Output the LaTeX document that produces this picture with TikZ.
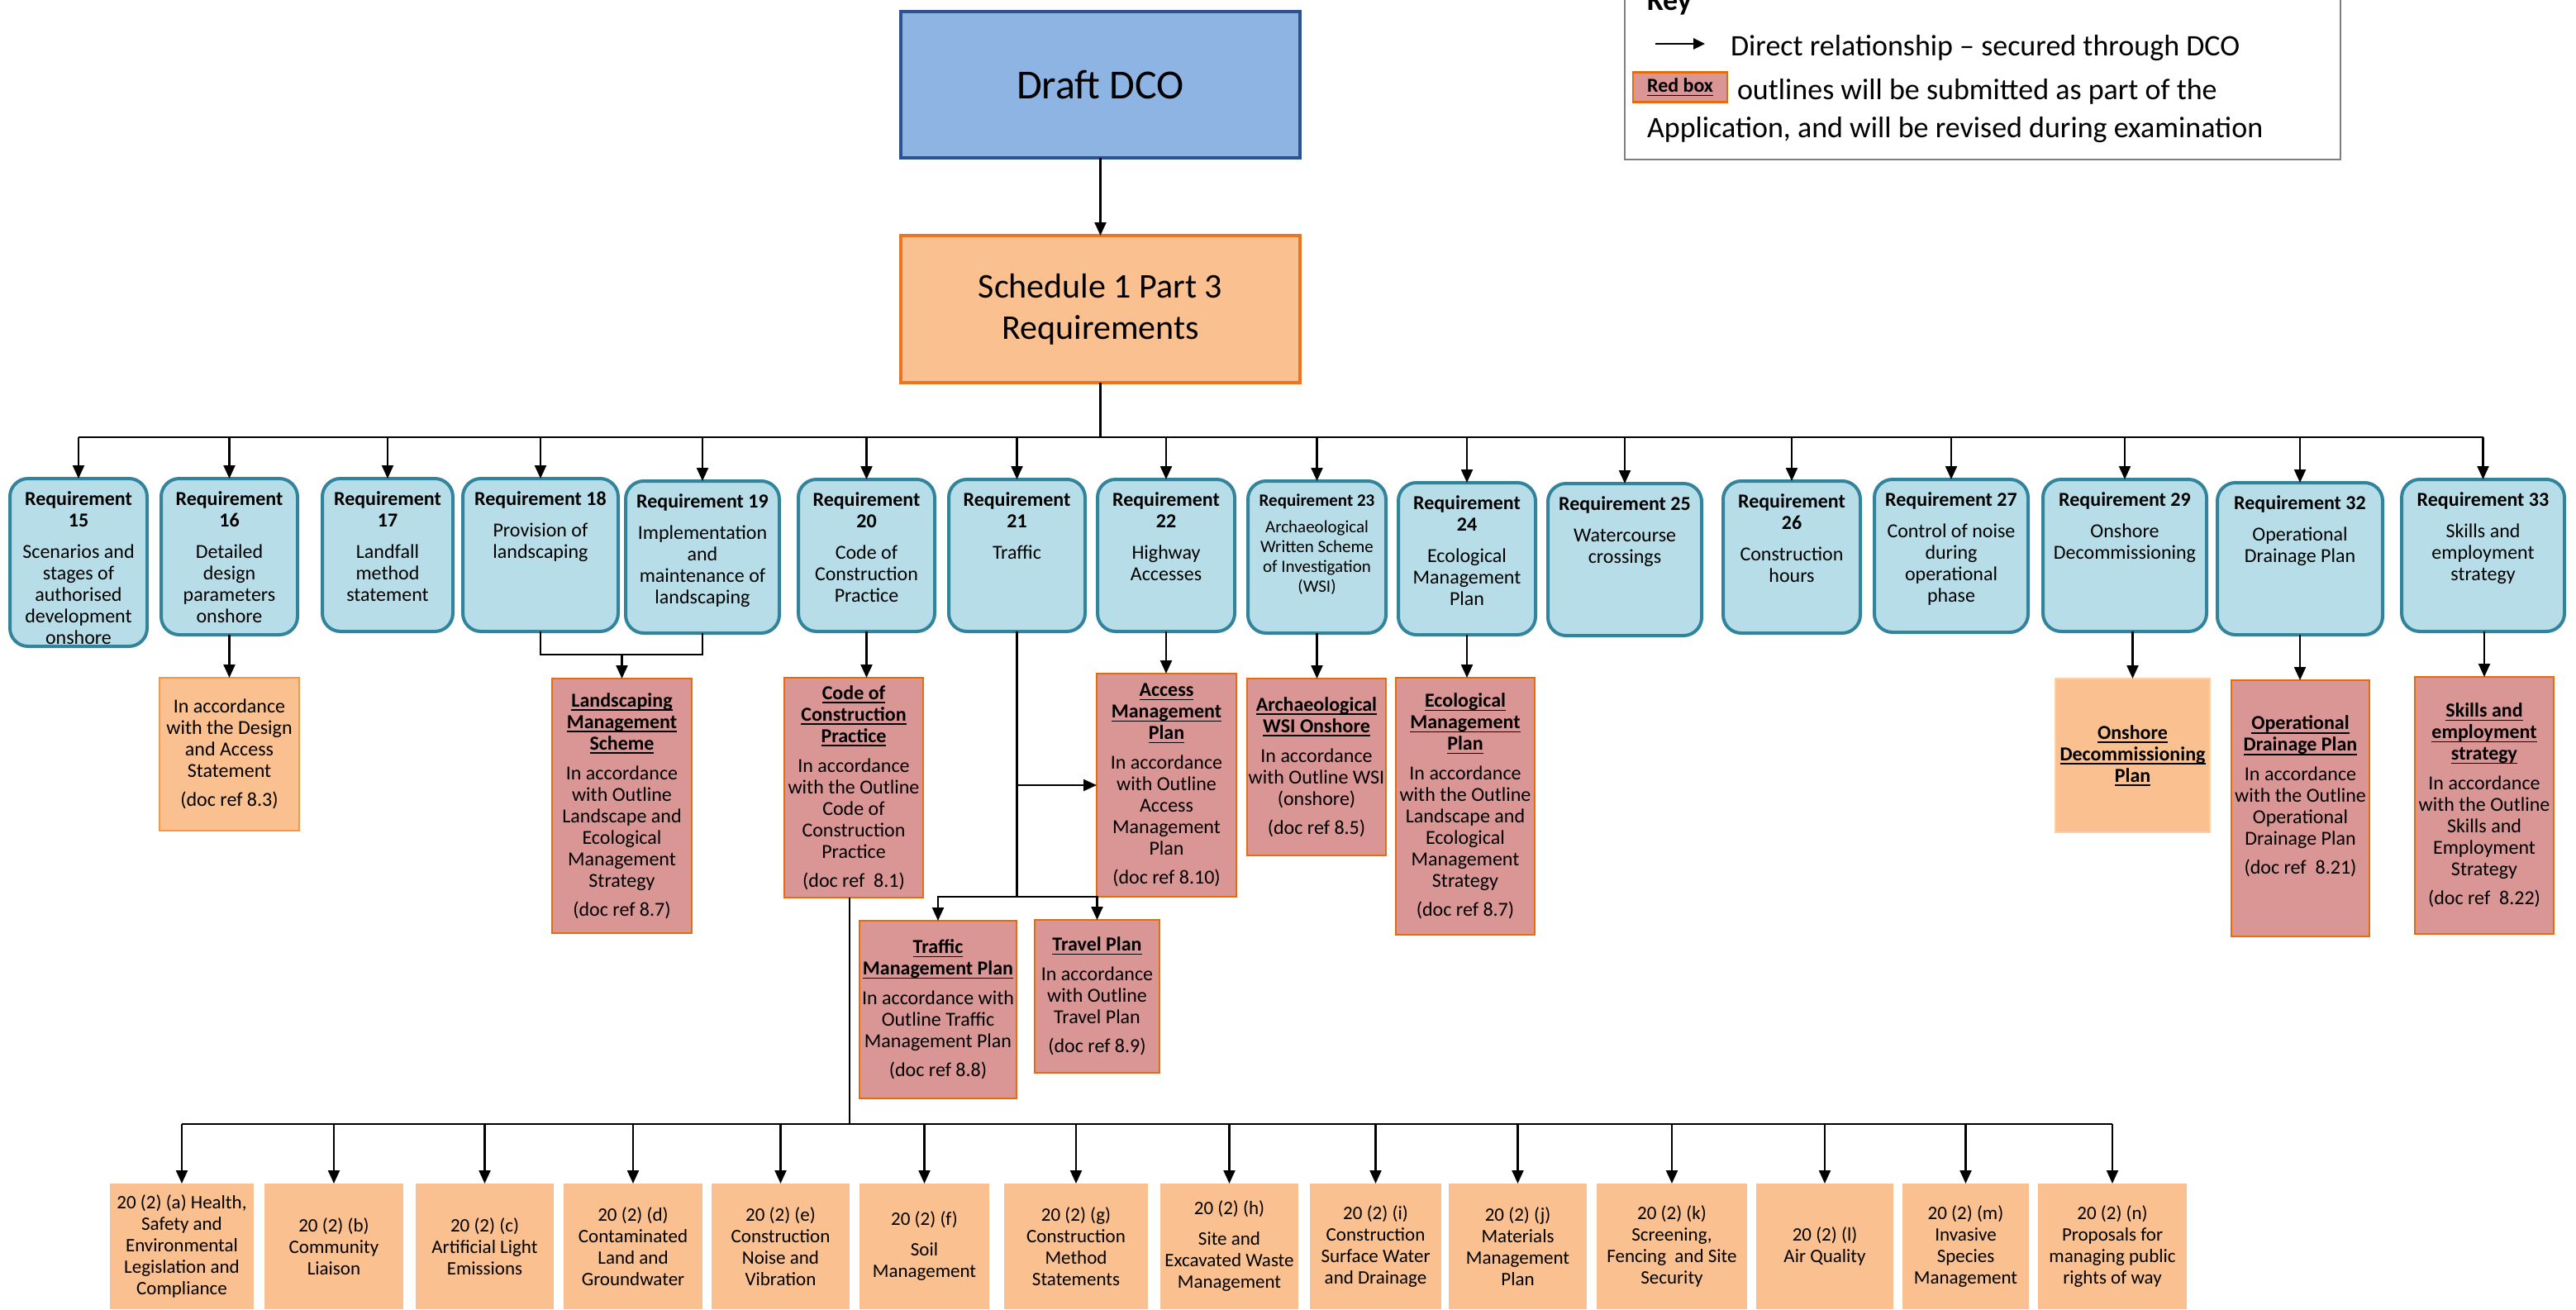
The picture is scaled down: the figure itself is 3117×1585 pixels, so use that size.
\documentclass[tikz,border=0pt]{standalone}
\usepackage{fontspec}
\setmainfont{Carlito}
\usetikzlibrary{arrows.meta}
\definecolor{dcoFill}{HTML}{8EB4E3}
\definecolor{dcoLine}{HTML}{2F528F}
\definecolor{schFill}{HTML}{FAC090}
\definecolor{schLine}{HTML}{EC7524}
\definecolor{reqFill}{HTML}{B7DEE8}
\definecolor{reqLine}{HTML}{31849B}
\definecolor{redFill}{HTML}{D99694}
\definecolor{redLine}{HTML}{E46C0A}
\definecolor{orgFill}{HTML}{FAC090}
\definecolor{orgLine}{HTML}{F79646}
\definecolor{orgLight}{HTML}{FBD0A8}
\definecolor{keyLine}{HTML}{7F7F7F}
\newcommand\ulx[1]{\setbox0\hbox{\bfseries #1}\rlap{\rule[-2.3pt]{\wd0}{0.7pt}}\box0}
\newcommand\fs[2]{\fontsize{#1}{#2}\selectfont}
\tikzset{
  every node/.style={inner sep=0pt, outer sep=0pt},
  dco/.style={draw=dcoLine, fill=dcoFill, line width=2pt, minimum width=241.5pt, minimum height=88.5pt, font=\fs{25}{30}},
  sch/.style={draw=schLine, fill=schFill, line width=2pt, minimum width=241.5pt, minimum height=89pt, align=center, font=\fs{21}{25}},
  rq/.style={draw=reqLine, fill=reqFill, line width=2pt, rounded corners=11pt},
  rqt/.style={anchor=north, align=center, font=\fs{12}{13}},
  rqs/.style={anchor=north, align=center, font=\fs{10.5}{12}},
  redbx/.style={draw=redLine, fill=redFill, line width=1.2pt, align=center, font=\fs{12}{13}},
  orgbx/.style={draw=orgLine, fill=orgFill, line width=1.2pt, align=center, font=\fs{12}{13}},
  btm/.style={fill=orgFill, align=center, minimum height=76pt, font=\fs{11.5}{13}},
  ln/.style={line width=1.1pt},
  arr/.style={line width=1.1pt, -{Triangle[length=8pt,width=7pt]}},
  keyarr/.style={line width=1.4pt, -{Triangle[length=7pt,width=6.5pt]}},
  keytxt/.style={anchor=base west, font=\fs{18}{22}}
}
\begin{document}
\begin{tikzpicture}[x=0.5pt, y=-0.5pt]
\useasboundingbox (0,0) rectangle (3117,1585);
\fill[white] (0,0) rectangle (3117,1585);

% key
\node[draw=keyLine, line width=0.8pt, fill=white, minimum width=433pt, minimum height=106.5pt] (key) at (2399,86.5) {};
\node[keytxt, font=\fs{18}{22}\bfseries] (keyt) at (1993,12) {Key};
\coordinate (ka1) at (2003,53);
\coordinate (ka2) at (2063,53);
\draw[keyarr] (ka1) -- (ka2);
\node[keytxt] (k1) at (2094,67) {Direct relationship – secured through DCO};
\node[redbx, minimum width=57pt, minimum height=18pt] (kred) at (2033,105.5) {\ulx{Red box}};
\node[keytxt] (k2) at (2102,120) {outlines will be submitted as part of the};
\node[keytxt] (k3) at (1993,166) {Application, and will be revised during examination};

% top
\node[dco] (dco) at (1331.5,102.5) {Draft DCO};
\node[sch] (sch) at (1331.5,374) {Schedule 1 Part 3\\Requirements};

% requirements
\node[rq, minimum width=83pt, minimum height=101.5pt] (r15) at (95,680.5) {};
\node[rq, minimum width=82.5pt, minimum height=94.5pt] (r16) at (277.5,673.5) {};
\node[rq, minimum width=79pt, minimum height=92.5pt] (r17) at (469,671.5) {};
\node[rq, minimum width=94pt, minimum height=92.5pt] (r18) at (654,671.5) {};
\node[rq, minimum width=93pt, minimum height=92pt] (r19) at (850,674) {};
\node[rq, minimum width=82.5pt, minimum height=92pt] (r20) at (1048.5,672) {};
\node[rq, minimum width=82.5pt, minimum height=92pt] (r21) at (1230.5,672) {};
\node[rq, minimum width=83pt, minimum height=92pt] (r22) at (1411,672) {};
\node[rq, minimum width=83.5pt, minimum height=92pt] (r23) at (1593.5,674) {};
\node[rq, minimum width=83pt, minimum height=92pt] (r24) at (1775,676) {};
\node[rq, minimum width=93pt, minimum height=92pt] (r25) at (1966,677) {};
\node[rq, minimum width=83pt, minimum height=92pt] (r26) at (2168,674) {};
\node[rq, minimum width=93pt, minimum height=92.5pt] (r27) at (2361,672.5) {};
\node[rq, minimum width=99pt, minimum height=92pt] (r29) at (2571,672) {};
\node[rq, minimum width=100pt, minimum height=92pt] (r32) at (2783,676) {};
\node[rq, minimum width=98.5pt, minimum height=92pt] (r33) at (3004.5,672) {};

\node[rqt] (r15t) at ([yshift=-8pt]r15.north) {\textbf{Requirement}\\\textbf{15}\\[6pt]Scenarios and\\stages of\\authorised\\development\\onshore};
\node[rqt] (r16t) at ([yshift=-8pt]r16.north) {\textbf{Requirement}\\\textbf{16}\\[6pt]Detailed\\design\\parameters\\onshore};
\node[rqt] (r17t) at ([yshift=-8pt]r17.north) {\textbf{Requirement}\\\textbf{17}\\[6pt]Landfall\\method\\statement};
\node[rqt] (r18t) at ([yshift=-8pt]r18.north) {\textbf{Requirement 18}\\[6pt]Provision of\\landscaping};
\node[rqt] (r19t) at ([yshift=-8pt]r19.north) {\textbf{Requirement 19}\\[6pt]Implementation\\and\\maintenance of\\landscaping};
\node[rqt] (r20t) at ([yshift=-8pt]r20.north) {\textbf{Requirement}\\\textbf{20}\\[6pt]Code of\\Construction\\Practice};
\node[rqt] (r21t) at ([yshift=-8pt]r21.north) {\textbf{Requirement}\\\textbf{21}\\[6pt]Traffic};
\node[rqt] (r22t) at ([yshift=-8pt]r22.north) {\textbf{Requirement}\\\textbf{22}\\[6pt]Highway\\Accesses};
\node[rqs] (r23t) at ([yshift=-8pt]r23.north) {\textbf{Requirement 23}\\[4pt]Archaeological\\Written Scheme\\of Investigation\\(WSI)};
\node[rqt] (r24t) at ([yshift=-8pt]r24.north) {\textbf{Requirement}\\\textbf{24}\\[6pt]Ecological\\Management\\Plan};
\node[rqt] (r25t) at ([yshift=-8pt]r25.north) {\textbf{Requirement 25}\\[6pt]Watercourse\\crossings};
\node[rqt] (r26t) at ([yshift=-8pt]r26.north) {\textbf{Requirement}\\\textbf{26}\\[6pt]Construction\\hours};
\node[rqt] (r27t) at ([yshift=-8pt]r27.north) {\textbf{Requirement 27}\\[6pt]Control of noise\\during\\operational\\phase};
\node[rqt] (r29t) at ([yshift=-8pt]r29.north) {\textbf{Requirement 29}\\[6pt]Onshore\\Decommissioning};
\node[rqt] (r32t) at ([yshift=-8pt]r32.north) {\textbf{Requirement 32}\\[6pt]Operational\\Drainage Plan};
\node[rqt] (r33t) at ([yshift=-8pt]r33.north) {\textbf{Requirement 33}\\[6pt]Skills and\\employment\\strategy};

% second level
\node[orgbx, minimum width=84.5pt, minimum height=92.5pt] (des) at (277.5,912.5) {In accordance\\with the Design\\and Access\\Statement\\[4.5pt](doc ref 8.3)};
\node[redbx, minimum width=84.5pt, minimum height=154pt] (lms) at (752.5,975) {\ulx{Landscaping}\\\ulx{Management}\\\ulx{Scheme}\\[5pt]In accordance\\with Outline\\Landscape and\\Ecological\\Management\\Strategy\\[4.5pt](doc ref 8.7)};
\node[redbx, minimum width=84pt, minimum height=133pt] (cocp) at (1033,953) {\ulx{Code of}\\\ulx{Construction}\\\ulx{Practice}\\[5pt]In accordance\\with the Outline\\Code of\\Construction\\Practice\\[4.5pt](doc ref~ 8.1)};
\node[redbx, minimum width=84.5pt, minimum height=135pt] (amp) at (1411.5,950) {\ulx{Access}\\\ulx{Management}\\\ulx{Plan}\\[5pt]In accordance\\with Outline\\Access\\Management\\Plan\\[4.5pt](doc ref 8.10)};
\node[redbx, minimum width=95pt, minimum height=107.5pt] (tmp) at (1135,1221.5) {\ulx{Traffic}\\\ulx{Management Plan}\\[5pt]In accordance with\\Outline Traffic\\Management Plan\\[4.5pt](doc ref 8.8)};
\node[redbx, minimum width=75.5pt, minimum height=92.5pt] (trv) at (1327.5,1205.5) {\ulx{Travel Plan}\\[5pt]In accordance\\with Outline\\Travel Plan\\[4.5pt](doc ref 8.9)};
\node[redbx, minimum width=84pt, minimum height=107pt] (aws) at (1593,928) {\ulx{Archaeological}\\\ulx{WSI Onshore}\\[5pt]In accordance\\with Outline WSI\\(onshore)\\[4.5pt](doc ref 8.5)};
\node[redbx, minimum width=84pt, minimum height=155.5pt] (emp) at (1773,975.5) {\ulx{Ecological}\\\ulx{Management}\\\ulx{Plan}\\[5pt]In accordance\\with the Outline\\Landscape and\\Ecological\\Management\\Strategy\\[4.5pt](doc ref 8.7)};
\node[orgbx, draw=orgLight, minimum width=93.5pt, minimum height=93pt] (odp) at (2580.5,914) {\ulx{Onshore}\\\ulx{Decommissioning}\\\ulx{Plan}};
\node[redbx, minimum width=83.5pt, minimum height=155pt] (drn) at (2783.5,978) {\ulx{Operational}\\\ulx{Drainage Plan}\\[5pt]In accordance\\with the Outline\\Operational\\Drainage Plan\\[4.5pt](doc ref~ 8.21)\\[3pt]\mbox{}};
\node[redbx, minimum width=84pt, minimum height=155.5pt] (skl) at (3006,974.5) {\ulx{Skills and}\\\ulx{employment}\\\ulx{strategy}\\[5pt]In accordance\\with the Outline\\Skills and\\Employment\\Strategy\\[4.5pt](doc ref~ 8.22)};

% bottom row
\node[btm, minimum width=87pt] (ba) at (220,1508) {20 (2) (a) Health,\\Safety and\\Environmental\\Legislation and\\Compliance};
\node[btm, minimum width=84pt] (bb) at (404,1508) {20 (2) (b)\\Community\\Liaison};
\node[btm, minimum width=83.5pt] (bc) at (586.5,1508) {20 (2) (c)\\Artificial Light\\Emissions};
\node[btm, minimum width=84pt] (bd) at (766,1508) {20 (2) (d)\\Contaminated\\Land and\\Groundwater};
\node[btm, minimum width=83.5pt] (be) at (944.5,1508) {20 (2) (e)\\Construction\\Noise and\\Vibration};
\node[btm, minimum width=78.5pt] (bf) at (1118.5,1508) {20 (2) (f)\\[5.5pt]Soil\\Management};
\node[btm, minimum width=87pt] (bg) at (1302,1508) {20 (2) (g)\\Construction\\Method\\Statements};
\node[btm, minimum width=83.5pt] (bh) at (1487.5,1508) {20 (2) (h)\\[5.5pt]Site and\\Excavated Waste\\Management};
\node[btm, minimum width=79.5pt] (bi) at (1664.5,1508) {20 (2) (i)\\Construction\\Surface Water\\and Drainage};
\node[btm, minimum width=83.5pt] (bj) at (1836.5,1508) {20 (2) (j)\\Materials\\Management\\Plan};
\node[btm, minimum width=91pt] (bk) at (2023,1508) {20 (2) (k)\\Screening,\\Fencing~ and Site\\Security};
\node[btm, minimum width=83pt] (bl) at (2208,1508) {20 (2) (l)\\Air Quality};
\node[btm, minimum width=76.5pt] (bm) at (2378.5,1508) {20 (2) (m)\\Invasive\\Species\\Management};
\node[btm, minimum width=90pt] (bn) at (2556,1508) {20 (2) (n)\\Proposals for\\managing public\\rights of way};

% connectors
\draw[arr] (dco) -- (sch);
\coordinate (bus) at (1331.5,529);
\draw[ln] (sch.south) -- (bus);
\draw[ln] (bus -| r15.north) -- (bus -| r33.north);
\foreach \r in {r15,r16,r17,r18,r19,r20,r21,r22,r23,r24,r25,r26,r27,r29,r32,r33}
  {\draw[arr] (bus -| \r.north) -- (\r.north);}

\draw[arr] (r16.south) -- (des.north);
\coordinate (lbr) at (752.5,792);
\draw[ln] (r18.south) |- (lbr) -| (r19.south);
\draw[arr] (lbr) -- (lms.north);
\draw[arr] (r20.south) -- (r20.south |- cocp.north);

\coordinate (tb) at (1230.5,1085);
\draw[ln] (r21.south) -- (tb);
\draw[arr] (r21.south |- amp.west) -- (amp.west);
\draw[arr] (tb) -| (tmp.north);
\draw[arr] (tb) -| (trv.north);
\draw[arr] (r22.south) -- (r22.south |- amp.north);
\draw[arr] (r23.south) -- (r23.south |- aws.north);
\draw[arr] (r24.south) -- (r24.south |- emp.north);
\draw[arr] (r29.south -| odp.north) -- (odp.north);
\draw[arr] (r32.south) -- (r32.south |- drn.north);
\draw[arr] (r33.south -| skl.north) -- (skl.north);

\coordinate (bbus) at (1028,1360);
\draw[ln] (cocp.south -| bbus) -- (bbus);
\draw[ln] (bbus -| ba.north) -- (bbus -| bn.north);
\foreach \b in {ba,bb,bc,bd,be,bf,bg,bh,bi,bj,bk,bl,bm,bn}
  {\draw[arr] (bbus -| \b.north) -- (\b.north);}
\end{tikzpicture}
\end{document}
